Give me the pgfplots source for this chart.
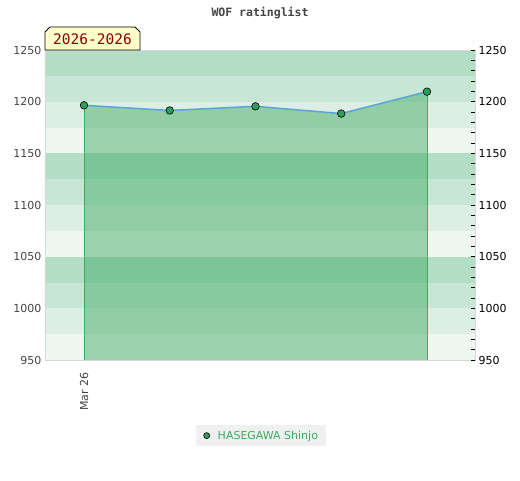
\documentclass[border=0pt]{standalone}
\usepackage{pgfplots}
\pgfplotsset{compat=1.18}
\usepackage{fontspec}
\setmainfont{DejaVu Sans}
\newfontfamily\monofont{DejaVu Sans Mono}
\definecolor{bandA}{HTML}{B3DDC5}
\definecolor{bandB}{HTML}{C8E6D5}
\definecolor{bandC}{HTML}{DDEFE4}
\definecolor{bandD}{HTML}{EFF7F2}
\definecolor{areagreen}{RGB}{64,172,100}
\definecolor{linegreen}{HTML}{3DAA5F}
\definecolor{markgreen}{HTML}{2F9D57}
\definecolor{lineblue}{HTML}{5BA3D9}
\definecolor{framegray}{HTML}{D8D8D8}
\definecolor{labgray}{HTML}{444444}
\definecolor{legbg}{HTML}{F0F0F0}
\definecolor{boxyellow}{HTML}{FFFFCC}
\definecolor{darkred}{HTML}{8B0000}
\begin{document}
\begin{tikzpicture}[x=1pt,y=1pt]
\useasboundingbox (0,0) rectangle (520,480);
\node[font=\monofont\bfseries\fontsize{11.5}{13}\selectfont, text=labgray] at (260,467) {WOF ratinglist};
\begin{axis}[
  at={(45pt,120pt)}, anchor=south west, scale only axis,
  width=430pt, height=310pt,
  xmin=-0.455, xmax=4.56, ymin=950, ymax=1250,
  axis on top,
  axis line style={framegray},
  ytick={950,1000,...,1250},
  yticklabel style={text=labgray, font=\fontsize{11}{13}\selectfont},
  xtick={0}, xticklabels={Mar 26},
  xticklabel style={rotate=90, anchor=east, text=labgray, font=\fontsize{11}{13}\selectfont},
  xticklabel shift=9pt,
  major tick length=0pt,
  /pgf/number format/assume math mode=true,
  /pgf/number format/1000 sep={},
  legend style={at={(0.502,0)}, anchor=north, yshift=-65pt, fill=legbg, draw=none,
    text=linegreen, font=\fontsize{11}{13}\selectfont, inner xsep=6pt, inner ysep=3.5pt},
  legend cell align=left,
]
\fill[bandA] (axis cs:-1,1250) rectangle (axis cs:5,1225);
\fill[bandB] (axis cs:-1,1225) rectangle (axis cs:5,1200);
\fill[bandC] (axis cs:-1,1200) rectangle (axis cs:5,1175);
\fill[bandD] (axis cs:-1,1175) rectangle (axis cs:5,1150);
\fill[bandA] (axis cs:-1,1150) rectangle (axis cs:5,1125);
\fill[bandB] (axis cs:-1,1125) rectangle (axis cs:5,1100);
\fill[bandC] (axis cs:-1,1100) rectangle (axis cs:5,1075);
\fill[bandD] (axis cs:-1,1075) rectangle (axis cs:5,1050);
\fill[bandA] (axis cs:-1,1050) rectangle (axis cs:5,1025);
\fill[bandB] (axis cs:-1,1025) rectangle (axis cs:5,1000);
\fill[bandC] (axis cs:-1,1000) rectangle (axis cs:5,975);
\fill[bandD] (axis cs:-1,975) rectangle (axis cs:5,950);
\addplot[draw=none, fill=areagreen, fill opacity=0.48, forget plot]
  coordinates {(0,1196.5) (1,1191.5) (2,1195.5) (3,1188.5) (4,1209.7)} \closedcycle;
\addplot[ycomb, draw=linegreen, line width=0.8pt, forget plot]
  coordinates {(0,1196.5) (4,1209.7)};
\addplot[lineblue, line width=1.5pt, forget plot]
  coordinates {(0,1196.5) (1,1191.5) (2,1195.5) (3,1188.5) (4,1209.7)};
\addplot[only marks, mark=*, mark size=3.8pt, mark options={fill=markgreen, draw=black, line width=0.6pt},
  legend image code/.code={
    \path[draw=none, fill=none] (0pt,-3pt) rectangle (14pt,3pt);
    \draw[mark=*, mark size=3pt, mark options={fill=markgreen, draw=black, line width=0.6pt}] plot coordinates {(5pt,0pt)};
  }]
  coordinates {(0,1196.5) (1,1191.5) (2,1195.5) (3,1188.5) (4,1209.7)};
\addlegendentry{HASEGAWA Shinjo}
\end{axis}
\begin{axis}[
  at={(45pt,120pt)}, anchor=south west, scale only axis,
  width=430pt, height=310pt,
  xmin=-0.455, xmax=4.56, ymin=950, ymax=1250,
  axis x line=none, axis y line*=right,
  axis line style={framegray},
  ytick={950,1000,...,1250},
  minor y tick num=4,
  tick align=inside,
  major tick length=4pt, minor tick length=4pt,
  tick style={black, line width=0.8pt},
  yticklabel style={text=black, font=\fontsize{11}{13}\selectfont},
  /pgf/number format/assume math mode=true,
  /pgf/number format/1000 sep={},
]
\addplot[draw=none] coordinates {(0,1000)};
\end{axis}
\draw[black, fill=boxyellow, line width=0.8pt]
  (45,430) -- (45,448) -- (50,453) -- (135,453) -- (140,448) -- (140,430) -- cycle;
\node[font=\monofont\fontsize{14.5}{16}\selectfont, text=darkred] at (92.5,441) {2026-2026};
\end{tikzpicture}
\end{document}
